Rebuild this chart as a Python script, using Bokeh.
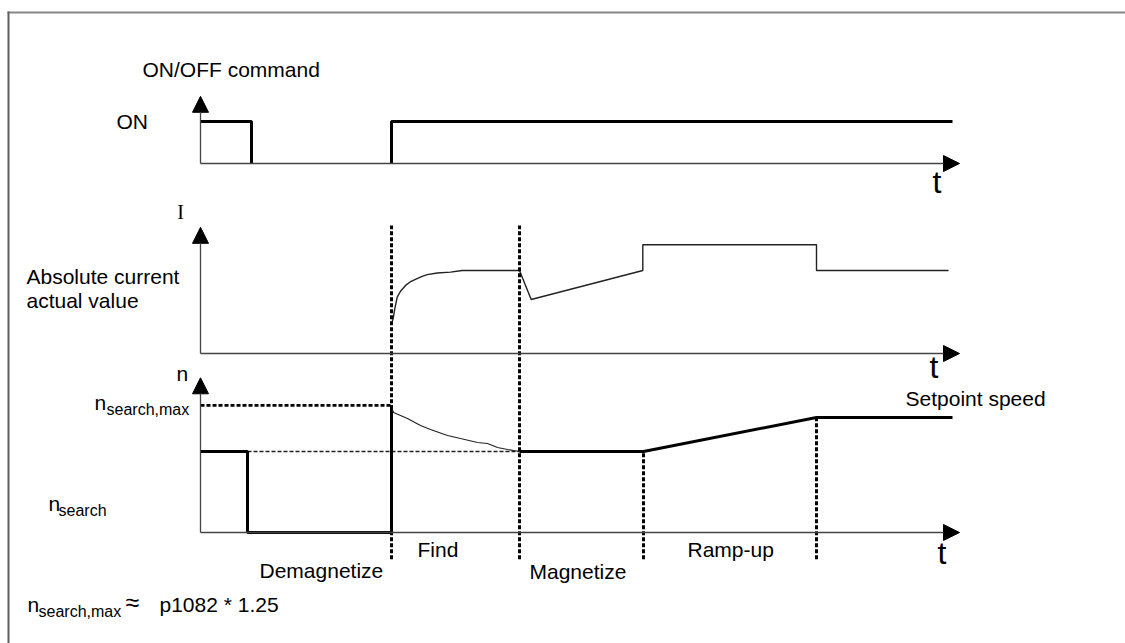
from bokeh.plotting import figure
from bokeh.models import Range1d, Arrow, NormalHead, ColumnDataSource
from bokeh.core.properties import value
from bokeh.embed import file_html
from bokeh.resources import INLINE

# ---------------- data (time in arbitrary units, levels per panel) ----------------
# event times
t_off = 5.1          # ON/OFF command goes OFF
t_spd_drop = 4.7     # speed drops to zero
t_on = 19.1          # command ON again / start of "Find"
t_find_end = 31.9    # end of "Find"
t_mag_end = 44.3     # end of "Magnetize"
t_ramp_end = 61.6    # end of "Ramp-up"
t_end = 75.2         # end of drawn signals
t_axis_end = 75.9

# ON/OFF command (1 = ON, 0 = OFF)
cmd_t1 = [0.0, t_off, t_off]
cmd_v1 = [1.0, 1.0, 0.0]
cmd_t2 = [t_on, t_on, t_end]
cmd_v2 = [0.0, 1.0, 1.0]

# absolute current actual value (% of magnetizing current)
cur_t = [19.1, 19.27, 19.43, 19.67, 20.0, 20.5, 21.07, 21.6, 22.17, 22.67, 23.67,
         25.0, 26.17, 31.9, 33.07, 44.23, 44.23, 61.6, 61.6, 74.8]
cur_v = [36, 42, 54, 68, 75, 82, 87, 90, 93, 95, 97,
         98, 100, 100, 65, 100, 131, 131, 100, 100]

# speed (1 = n_search)
n_search = 1.0
n_search_max = 1.57
n_setpoint = 1.42
spd_t1 = [0.0, t_spd_drop, t_spd_drop, t_on, t_on]
spd_v1 = [n_search, n_search, 0.0, 0.0, n_search_max]
find_t = [19.1, 19.3, 20.7, 22.0, 23.0, 24.7, 26.0, 27.7, 28.7, 29.7, 30.7, 31.9]
find_v = [1.543, 1.481, 1.407, 1.321, 1.272, 1.198, 1.160, 1.111, 1.099, 1.049, 1.025, 1.0]
spd_t2 = [t_find_end, t_mag_end, t_ramp_end, t_end]
spd_v2 = [n_search, n_search, n_setpoint, n_setpoint]

# phase boundaries (vertical dotted markers), in speed units
phase_t = [t_on, t_find_end, t_mag_end, t_ramp_end]
phase_top = [3.79, 3.79, n_search, n_setpoint]
phase_bottom = [-0.33, -0.33, -0.33, -0.33]

# axis extents (arrow tips)
cmd_axis_top = 1.6
cur_axis_top = 152
spd_axis_top = 1.91

# ---------------- layout ----------------
W, H = 1125, 643
PAGE_LEFT, PAGE_TOP = 0, 0
PAGE_BOTTOM = PAGE_TOP + H


def panel_range(base_py, unit_px):
    return Range1d(start=(base_py - PAGE_BOTTOM) / unit_px,
                   end=(base_py - PAGE_TOP) / unit_px)


x0_t = (PAGE_LEFT - 200) / 10.0
p = figure(width=W, height=H, output_backend="svg", toolbar_location=None,
           x_range=Range1d(x0_t, x0_t + W / 10.0),
           y_range=Range1d(PAGE_BOTTOM, PAGE_TOP),
           min_border=0, outline_line_color=None, background_fill_color="white",
           border_fill_color="white")
p.xaxis.visible = False
p.yaxis.visible = False
p.grid.visible = False
p.extra_x_ranges = {"px": Range1d(PAGE_LEFT, PAGE_LEFT + W)}
p.extra_y_ranges = {"cmd": panel_range(163, 42.0),
                    "cur": panel_range(353, 0.83),
                    "spd": panel_range(532, 81.0)}

# frame (top and left only) as thin filled bars
p.quad(left=[7, 7], right=[1125, 9], top=[11, 11], bottom=[13, 643], x_range_name="px",
       fill_color=["#888888", "#606060"], line_color=None)

AX = "#444444"
# axes with arrow heads
for rng, top in (("cmd", cmd_axis_top), ("cur", cur_axis_top), ("spd", spd_axis_top)):
    p.add_layout(Arrow(x_start=0, y_start=0, x_end=0, y_end=top, y_range_name=rng,
                       line_color=AX, line_width=1.3,
                       end=NormalHead(size=16, fill_color="black", line_color="black")))
    p.add_layout(Arrow(x_start=0, y_start=0, x_end=t_axis_end, y_end=0, y_range_name=rng,
                       line_color=AX, line_width=1.3,
                       end=NormalHead(size=16, fill_color="black", line_color="black")))

# ON/OFF command
p.line(cmd_t1, cmd_v1, y_range_name="cmd", line_color="black", line_width=3)
p.line(cmd_t2, cmd_v2, y_range_name="cmd", line_color="black", line_width=3)

# current
p.line(cur_t, cur_v, y_range_name="cur", line_color="#222222", line_width=1.4)

# speed reference dashed lines
p.line([0, t_on], [n_search_max, n_search_max], y_range_name="spd",
       line_color="black", line_width=2.6, line_dash="4 2")
p.line([t_spd_drop, t_find_end], [n_search, n_search], y_range_name="spd",
       line_color="#222222", line_width=1.4, line_dash="4 2")

# speed
p.line(spd_t1, spd_v1, y_range_name="spd", line_color="black", line_width=3)
p.line(find_t, find_v, y_range_name="spd", line_color="#222222", line_width=1.2)
p.line(spd_t2, spd_v2, y_range_name="spd", line_color="black", line_width=3)

# phase markers
p.segment(x0=phase_t, y0=phase_bottom, x1=phase_t, y1=phase_top, y_range_name="spd",
          line_color="black", line_width=3, line_dash="4 2")

# ---------------- texts (y = vertical middle of the line of text) ----------------
labels = [
    ("ON/OFF command", 142, 69, "21px"),
    ("ON", 116, 121, "21px"),
    ("Absolute current", 26, 275.5, "21px"),
    ("actual value", 26, 299.5, "21px"),
    ("n", 176, 372.5, "21px"),
    ("n", 94, 401.5, "21px"),
    ("search,max", 106, 409, "16px"),
    ("n", 48, 502.5, "21px"),
    ("search", 58, 510, "16px"),
    ("Demagnetize", 259, 569.5, "21px"),
    ("Find", 417, 548.5, "21px"),
    ("Magnetize", 529, 570.5, "21px"),
    ("Ramp-up", 687, 548.5, "21px"),
    ("Setpoint speed", 905, 397.5, "21px"),
    ("t", 932, 181.5, "32px"),
    ("t", 929, 366.5, "32px"),
    ("t", 937, 552.5, "32px"),
    ("n", 27, 603.5, "21px"),
    ("search,max", 38, 611, "16px"),
    ("\u2248", 125, 601, "25px"),
    ("p1082 * 1.25", 159, 603.5, "21px"),
]
src = ColumnDataSource(dict(
    x=[l[1] for l in labels], y=[l[2] for l in labels], text=[l[0] for l in labels],
    size=[l[3] for l in labels]))
p.text(x="x", y="y", text="text", source=src, x_range_name="px",
       text_font=value("Liberation Sans"), text_font_size="size",
       text_align="left", text_baseline="middle", text_color="black")

# serif "I" label of current axis
p.text(x=[180], y=[211.5], text=["I"], x_range_name="px",
       text_font=value("Liberation Serif"), text_font_size=value("20px"),
       text_align="center", text_baseline="middle", text_color="black")

open("out.html", "w").write(file_html(p, INLINE))
